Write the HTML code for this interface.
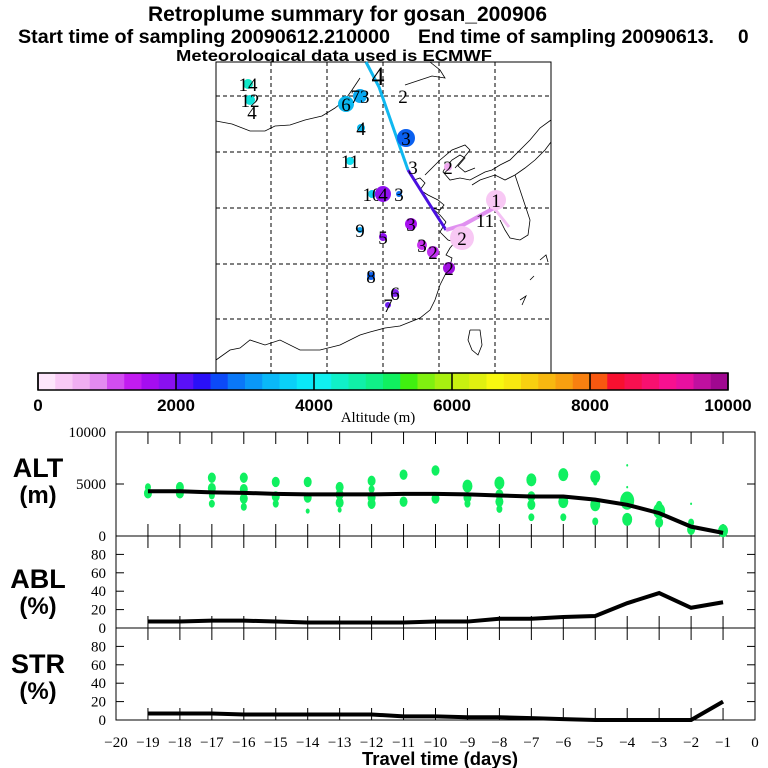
<!DOCTYPE html>
<html><head><meta charset="utf-8"><style>
body{margin:0;background:#fff;width:768px;height:768px;overflow:hidden}
svg{display:block;font-family:"Liberation Sans",sans-serif}
</style></head><body>
<svg id="c" width="768" height="768" viewBox="0 0 768 768">
<g font-weight="bold">
<text x="148" y="21" font-size="21" textLength="399" lengthAdjust="spacingAndGlyphs">Retroplume summary for gosan_200906</text>
<text x="18" y="43" font-size="19" textLength="372" lengthAdjust="spacingAndGlyphs">Start time of sampling 20090612.210000</text>
<text x="418" y="43" font-size="19" textLength="296" lengthAdjust="spacingAndGlyphs">End time of sampling 20090613.</text>
<text x="738" y="43" font-size="19">0</text>
<text x="176" y="61" font-size="16" textLength="316" lengthAdjust="spacingAndGlyphs">Meteorological data used is ECMWF</text>
</g>
<g id="map"></g>
<g id="cbar"></g>
<g id="panels"></g>
</svg>
<script>
const NS='http://www.w3.org/2000/svg';
function mk(tag,attrs,parent,txt){const e=document.createElementNS(NS,tag);for(const k in attrs)e.setAttribute(k,attrs[k]);if(txt!==undefined)e.textContent=txt;parent.appendChild(e);return e;}
const days=[-19,-18,-17,-16,-15,-14,-13,-12,-11,-10,-9,-8,-7,-6,-5,-4,-3,-2,-1];
const altMean=[4300,4300,4200,4150,4050,4000,4000,4000,4050,4050,4000,3900,3800,3800,3500,3000,2200,900,300];
const ablPct=[7,7,8,8,7,6,6,6,6,7,7,10,10,12,13,27,38,22,28];
const strPct=[7,7,7,6,6,6,6,6,4,4,3,3,2,1,0,0,0,0,20];
const dotDay=[-19,-19,-18,-18,-17,-17,-17,-17,-16,-16,-16,-16,-15,-15,-15,-14,-14,-14,-13,-13,-13,-13,-12,-12,-12,-12,-11,-11,-10,-10,-9,-9,-9,-8,-8,-8,-8,-7,-7,-7,-7,-6,-6,-6,-5,-5,-5,-5,-4,-4,-4,-4,-3,-3,-3,-2,-2,-2,-1];
const dotAlt=[4700,4100,4700,4100,5600,4600,3900,3100,5600,4500,3600,2800,5200,3800,3100,5200,3700,2400,4700,4000,3200,2500,5300,4500,3100,3700,5900,3300,6300,3600,4800,3700,3100,5100,4000,3300,2600,5400,3800,3000,1800,5900,3300,1800,5700,5100,3000,1400,6800,4700,3400,1600,3000,2400,1300,3100,1300,600,500];
const dotSize=[3,4,4,4,4,4,3,3,4,4,4,3,4,4,3,4,4,2,4,4,4,2,4,3,4,4,4,4,4,4,5,4,3,5,4,4,3,5,4,4,3,5,5,3,5,2,5,3,1,1,7,5,3,6,4,1,3,4,5];
const cbarTicks=[0,2000,4000,6000,8000,10000];
const cbarColors=['#fde6fb','#f9c9f6','#f0aef2','#e38af0','#d24df0','#c21cf0','#a50df0','#8a10f0','#5a10f8','#2a10f8','#0c4af8','#0a78f8','#0a98f8','#0ab8f8','#0ad0f8','#0ae8f8','#10f0f0','#10f0c8','#10f0a8','#10f088','#10f060','#40f010','#80f010','#a8f010','#c8f010','#e0f010','#f8f810','#f8e810','#f8d010','#f8b810','#f8a010','#f88010','#f85810','#f81030','#f81050','#f81070','#f81090','#e810a0','#c010a0','#a00890','#800870'];
const map=document.getElementById('map');
const MX0=216,MX1=551,MY0=62,MY1=373;
mk('rect',{x:MX0,y:MY0,width:MX1-MX0,height:MY1-MY0,fill:'#fff',stroke:'#000','stroke-width':1},map);
[271,327,383,439,495].forEach(x=>mk('line',{x1:x,y1:MY0,x2:x,y2:MY1,stroke:'#000','stroke-dasharray':'4,3','stroke-width':1},map));
[96,152,208,264,319].forEach(y=>mk('line',{x1:MX0,y1:y,x2:MX1,y2:y,stroke:'#000','stroke-dasharray':'4,3','stroke-width':1},map));
const coasts=[
'216,121 232,124 250,131 265,131 275,126 290,125 305,120 322,116 335,108 345,100 352,90 360,78',
'430,62 440,70 445,78 432,76 420,80 405,85',
'551,120 540,128 530,140 520,150 510,160 500,165 492,170 485,172 470,180 460,178 450,180 443,172 445,168 452,160 460,155 465,158 458,166 465,172 475,168',
'425,175 432,168 440,160 452,150 465,145 470,150 462,160 455,168',
'414,180 420,178 425,183 420,190 428,195 438,200 444,205 440,210 432,208 440,215 446,222',
'446,222 440,232 448,240 455,242 450,248 446,255 452,258 450,266 445,275 440,285 435,300 430,310 420,318 410,322 400,326 385,328 370,332 360,335 340,345 320,350 300,350 280,340 265,345 250,340 240,348 230,350 216,360',
'472,185 480,180 495,175 505,180 515,175 525,168 535,160 545,150 551,142',
'515,175 520,190 525,205 530,220 528,235 520,240 510,238 505,230 500,220',
'470,330 480,330 482,345 478,355 472,350 468,340 470,330',
'520,300 526,296 522,305','530,280 534,276','540,260 546,255 548,262'];
coasts.forEach(p=>{const e=mk('polyline',{points:p,fill:'none',stroke:'#000','stroke-width':0.8},map);});
const t1=mk('polyline',{points:'366,62 379,87 401,150 408,170',fill:'none',stroke:'#10b8f0','stroke-width':3},map);

const t2=mk('polyline',{points:'408,170 430,205 446,230',fill:'none',stroke:'#4a10e0','stroke-width':3},map);

const t3=mk('polyline',{points:'446,230 463,225 494,208',fill:'none',stroke:'#e090f0','stroke-width':4},map);

mk('polyline',{points:'494,208 509,227',fill:'none',stroke:'#f4c0f4','stroke-width':3},map);
const marks=[[248,84,5,'#10e8c8','14'],[250,100,5,'#10e0d8','12'],[252,112,0,'#fff','4'],[346,104,8,'#0ab8f0','6'],[360,96,7,'#0aa8f0','73'],[378,76,0,'#fff','4'],[403,96,0,'#fff','2'],[361,128,4,'#0ab8f0','4'],[406,138,9,'#0a60f0','3'],[350,161,4,'#10e0f0','11'],[413,167,0,'#fff','3'],[448,167,4,'#f0a8f0','2'],[372,194,4,'#10d0f0','10'],[383,194,8,'#9010f0','4'],[399,194,3,'#0a70f0','3'],[496,200,10,'#f8c8f4','1'],[485,220,0,'#fff','11'],[462,238,12,'#f8c8f4','2'],[411,224,6,'#a810f0','3'],[360,230,3,'#0aa0f0','9'],[383,237,4,'#9010f0','5'],[422,245,5,'#c830f0','3'],[433,252,6,'#c030f0','2'],[449,268,6,'#a010e0','2'],[371,276,4,'#0a60f0','8'],[395,293,4,'#8020f0','6'],[388,305,3,'#7020f0','7']];
marks.forEach(m=>{
 if(m[2]>0){const c=mk('circle',{cx:m[0],cy:m[1],r:m[2],fill:m[3]},map);}
 const big=m[4]==='4'&&m[2]===0&&m[1]<80;
 const t=mk('text',{x:m[0],y:m[1]+(big?9:7),'font-size':big?26:19,'text-anchor':'middle','font-family':'Liberation Serif,serif'},map,m[4]);
 
});
const cb=document.getElementById('cbar');
const CX0=38,CX1=728,CY0=373,CY1=390;
const cbx=v=>CX0+(v-cbarTicks[0])/(cbarTicks[cbarTicks.length-1]-cbarTicks[0])*(CX1-CX0);
const nseg=40;
for(let i=0;i<nseg;i++){const x=cbx(i*250);const r=mk('rect',{x:x,y:CY0,width:(CX1-CX0)/nseg+0.5,height:CY1-CY0,fill:cbarColors[i]},cb);}
mk('rect',{x:CX0,y:CY0,width:CX1-CX0,height:CY1-CY0,fill:'none',stroke:'#000','stroke-width':1.5},cb);
cbarTicks.forEach(v=>{mk('line',{x1:cbx(v),y1:CY0,x2:cbx(v),y2:CY1,stroke:'#000','stroke-width':1.5},cb);
 const t=mk('text',{x:cbx(v),y:411,'font-size':17,'font-weight':'bold','text-anchor':'middle'},cb,v);});
const at=mk('text',{x:378,y:422,'font-size':15,'text-anchor':'middle','font-family':'Liberation Serif,serif'},cb,'Altitude (m)');

const P=document.getElementById('panels');
const PX0=116,PX1=755;
const xs=d=>PX0+(d+20)/20*(PX1-PX0);
const altY=v=>536-v/10000*104;
const ablY=v=>628-v/100*92;
const strY=v=>720-v/100*92;
mk('rect',{x:PX0,y:432,width:PX1-PX0,height:288,fill:'none',stroke:'#000','stroke-width':1},P);
mk('line',{x1:PX0,y1:536,x2:PX1,y2:536,stroke:'#000'},P);mk('line',{x1:PX0,y1:628,x2:PX1,y2:628,stroke:'#000'},P);
for(let d=-19;d<=-1;d++){const x=xs(d);
 [[432,444],[524,548],[616,640],[708,720]].forEach(s=>mk('line',{x1:x,y1:s[0],x2:x,y2:s[1],stroke:'#000'},P));}
function yt(y,lab){mk('line',{x1:PX0,y1:y,x2:PX0+8,y2:y,stroke:'#000'},P);mk('line',{x1:PX1-8,y1:y,x2:PX1,y2:y,stroke:'#000'},P);
 const t=mk('text',{x:PX0-10,y:y+5,'font-size':15,'text-anchor':'end','font-family':'Liberation Serif,serif'},P,lab);}
[0,5000,10000].forEach(v=>yt(altY(v),v));
[0,20,40,60,80].forEach(v=>yt(ablY(v),v));
[0,20,40,60,80].forEach(v=>yt(strY(v),v));
for(let d=-20;d<=0;d++){const t=mk('text',{x:xs(d),y:747,'font-size':15,'text-anchor':'middle','font-family':'Liberation Serif,serif'},P,d<0?'\u2212'+(-d):'0');}
const xt=mk('text',{x:362,y:765,'font-size':18,'font-weight':'bold',textLength:156,lengthAdjust:'spacingAndGlyphs'},P,'Travel time (days)');
[['ALT',477,'alt'],['(m)',503,'alt'],['ABL',588,'abl'],['(%)',614,'abl'],['STR',673,'str'],['(%)',699,'str']].forEach(l=>{const t=mk('text',{x:38,y:l[1],'font-size':l[0].startsWith('(')?24:27,'font-weight':'bold','text-anchor':'middle'},P,l[0]);});
dotDay.forEach((d,i)=>{const e=mk('ellipse',{cx:xs(d),cy:altY(dotAlt[i]),rx:dotSize[i],ry:dotSize[i]*1.3,fill:'#10f060'},P);});
function line(vals,f,name){const pts=days.map((d,i)=>xs(d)+','+f(vals[i])).join(' ');const e=mk('polyline',{points:pts,fill:'none',stroke:'#000','stroke-width':4},P);}
line(altMean,altY,'alt-mean-line');line(ablPct,ablY,'abl-line');line(strPct,strY,'str-line');
</script>
</body></html>
